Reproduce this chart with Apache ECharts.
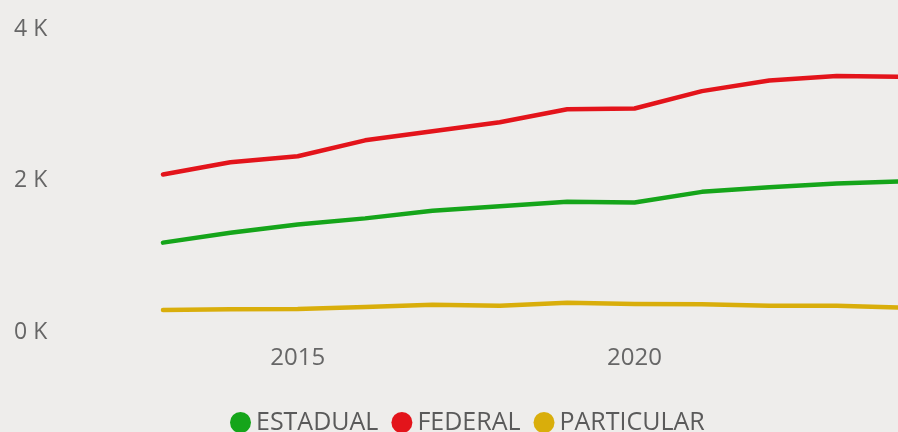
<!DOCTYPE html>
<html>
<head>
<meta charset="utf-8">
<script src="https://cdn.jsdelivr.net/npm/echarts@6/dist/echarts.min.js"></script>
<style>
  html, body { margin: 0; padding: 0; background: #eeedeb; }
  #chart { width: 898px; height: 432px; }
</style>
</head>
<body>
<div id="chart"></div>
<script>
const years = ['2013', '2014', '2015', '2016', '2017', '2018', '2019', '2020', '2021', '2022', '2023', '2024'];
const estadual = [1180, 1310, 1420, 1500, 1600, 1660, 1720, 1710, 1850, 1910, 1960, 1990];
const federal = [2080, 2240, 2320, 2530, 2650, 2770, 2940, 2950, 3180, 3320, 3380, 3370];
const particular = [290, 300, 305, 330, 360, 345, 385, 370, 365, 345, 345, 320];
const shownYears = ['2015', '2020'];

const font = '"Open Sans", "Noto Sans", sans-serif';

function line(name, data, color) {
    return {
        name: name,
        type: 'line',
        data: data,
        symbol: 'none',
        lineStyle: { width: 4.5, color: color, cap: 'round', join: 'round' },
        itemStyle: { color: color }
    };
}

const chart = echarts.init(document.getElementById('chart'));
chart.setOption({
    backgroundColor: '#eeedeb',
    animation: false,
    grid: { left: 163, right: -6, top: 29, bottom: 100, containLabel: false, outerBoundsMode: 'none' },
    legend: {
        left: 225,
        top: 405,
        icon: 'circle',
        itemWidth: 21,
        itemHeight: 21,
        itemGap: 13,
        textStyle: { fontFamily: font, fontSize: 25, color: '#5a5a5a', lineHeight: 22 },
        data: ['ESTADUAL', 'FEDERAL', 'PARTICULAR']
    },
    xAxis: {
        type: 'category',
        data: years,
        boundaryGap: false,
        axisLine: { show: false },
        axisTick: { show: false },
        axisLabel: {
            interval: 0,
            margin: 14,
            fontFamily: font,
            fontSize: 24,
            color: '#666',
            formatter: v => shownYears.includes(v) ? v : ''
        }
    },
    yAxis: {
        type: 'value',
        min: 0,
        max: 4000,
        interval: 2000,
        splitLine: { show: false },
        axisLine: { show: false },
        axisTick: { show: false },
        axisLabel: {
            align: 'left',
            margin: 149,
            fontFamily: font,
            fontSize: 23,
            color: '#666',
            formatter: v => (v / 1000) + ' K'
        }
    },
    series: [
        line('ESTADUAL', estadual, '#15a51a'),
        line('FEDERAL', federal, '#e3141b'),
        line('PARTICULAR', particular, '#d9ae0b')
    ]
});
</script>
</body>
</html>
